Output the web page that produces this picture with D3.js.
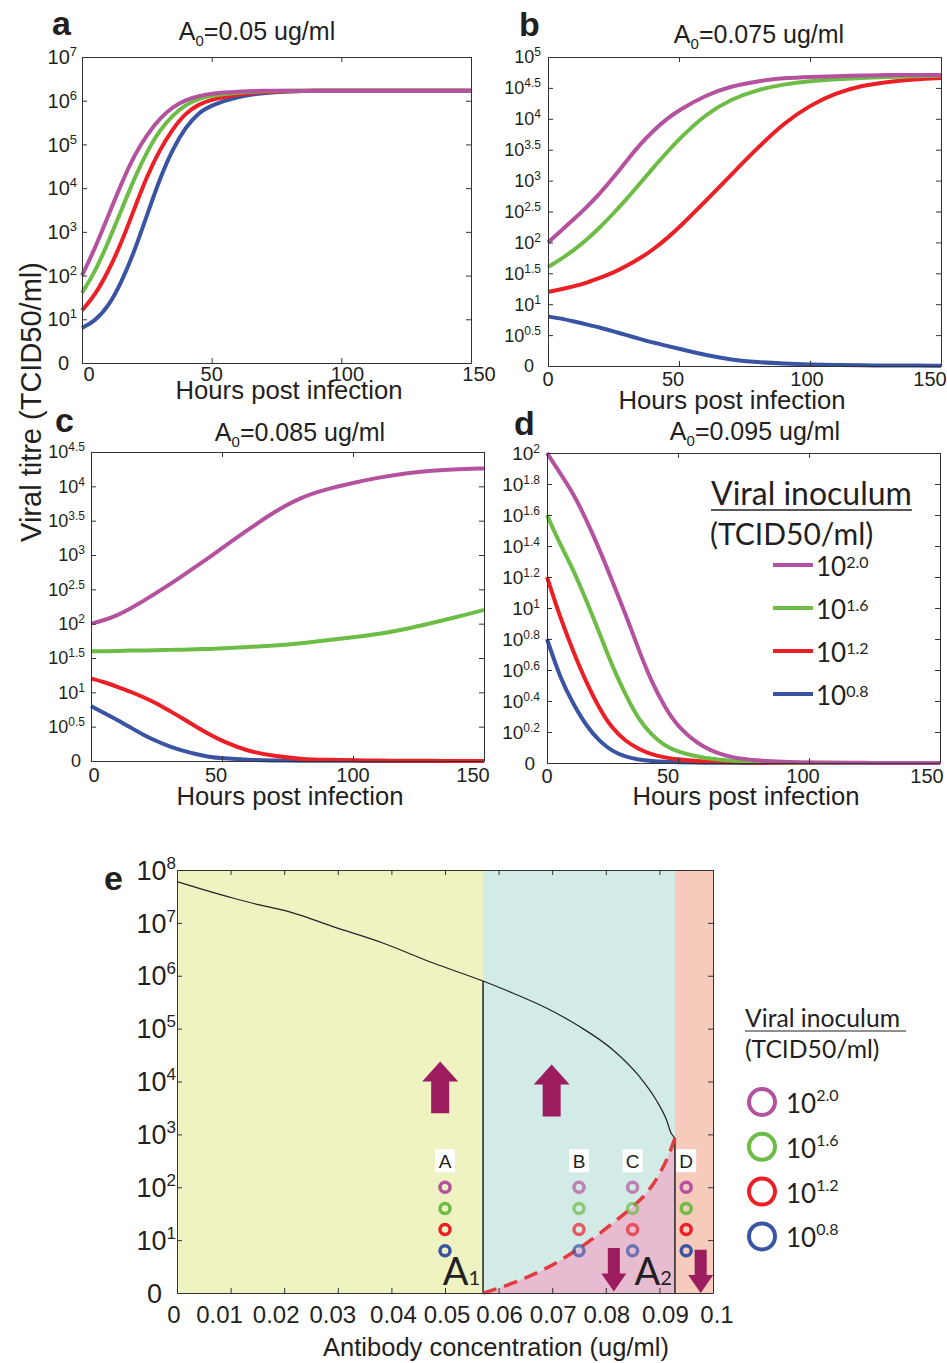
<!DOCTYPE html>
<html>
<head>
<meta charset="utf-8">
<script src="https://cdn.jsdelivr.net/npm/d3@7"></script>
<style>
body { margin: 0; background: #fff; }
svg text { font-family: "Liberation Sans", Arial, sans-serif; fill: #231f20; }
.axis path, .axis line { stroke: #333; stroke-width: 1; }
.legend text { font-family: Lato, "Liberation Sans", sans-serif; }
</style>
</head>
<body>
<svg id="fig" width="947" height="1363"></svg>
<script>
// ---- time-course panels a-d (log10 viral titre vs hours) ----
const hours = [0, 5, 10, 15, 20, 25, 30, 35, 40, 45, 50, 60, 70, 80, 90, 100, 110, 120, 130, 140, 150];
const hourTicks = [0, 50, 100, 150];

const aPurple = [2.0, 2.62, 3.35, 4.08, 4.74, 5.22, 5.6, 5.86, 6.02, 6.11, 6.17, 6.21, 6.23, 6.23, 6.23, 6.23, 6.23, 6.23, 6.23, 6.23, 6.23];
const aGreen  = [1.6, 2.08, 2.75, 3.47, 4.2, 4.83, 5.33, 5.67, 5.91, 6.05, 6.12, 6.19, 6.22, 6.23, 6.23, 6.23, 6.23, 6.23, 6.23, 6.23, 6.23];
const aRed    = [1.2, 1.55, 2.08, 2.72, 3.5, 4.27, 4.88, 5.36, 5.72, 5.92, 6.03, 6.15, 6.2, 6.22, 6.23, 6.23, 6.23, 6.23, 6.23, 6.23, 6.23];
const aBlue   = [0.8, 0.96, 1.28, 1.82, 2.52, 3.37, 4.22, 4.9, 5.4, 5.73, 5.9, 6.1, 6.18, 6.21, 6.23, 6.23, 6.23, 6.23, 6.23, 6.23, 6.23];

const bPurple = [2.0, 2.19, 2.38, 2.58, 2.8, 3.05, 3.32, 3.58, 3.8, 3.99, 4.14, 4.38, 4.53, 4.61, 4.66, 4.68, 4.69, 4.7, 4.71, 4.71, 4.71];
const bGreen  = [1.6, 1.73, 1.88, 2.05, 2.25, 2.47, 2.7, 2.95, 3.2, 3.44, 3.67, 4.07, 4.32, 4.47, 4.56, 4.61, 4.64, 4.66, 4.68, 4.69, 4.7];
const bRed    = [1.2, 1.24, 1.29, 1.35, 1.43, 1.51, 1.62, 1.74, 1.88, 2.05, 2.24, 2.66, 3.1, 3.53, 3.93, 4.22, 4.42, 4.54, 4.6, 4.64, 4.66];
const bBlue   = [0.8, 0.77, 0.72, 0.67, 0.62, 0.56, 0.5, 0.44, 0.38, 0.33, 0.28, 0.18, 0.1, 0.06, 0.04, 0.025, 0.015, 0.01, 0.008, 0.006, 0.005];

const cPurple = [2.0, 2.05, 2.12, 2.22, 2.33, 2.45, 2.57, 2.7, 2.83, 2.96, 3.1, 3.37, 3.63, 3.84, 3.96, 4.05, 4.13, 4.19, 4.23, 4.25, 4.26];
const cGreen  = [1.6, 1.6, 1.6, 1.61, 1.61, 1.61, 1.62, 1.62, 1.63, 1.63, 1.64, 1.66, 1.68, 1.71, 1.76, 1.8, 1.85, 1.92, 2.01, 2.1, 2.2];
const cRed    = [1.2, 1.15, 1.08, 1.01, 0.93, 0.84, 0.73, 0.62, 0.5, 0.39, 0.29, 0.14, 0.07, 0.03, 0.015, 0.01, 0.005, 0.003, 0.002, 0.001, 0.001];
const cBlue   = [0.8, 0.7, 0.6, 0.49, 0.38, 0.29, 0.21, 0.15, 0.1, 0.06, 0.04, 0.015, 0.008, 0.005, 0.003, 0.002, 0.001, 0.001, 0, 0, 0];

const dPurple = [2.0, 1.87, 1.74, 1.57, 1.38, 1.17, 0.96, 0.73, 0.52, 0.36, 0.23, 0.09, 0.035, 0.015, 0.007, 0.003, 0.002, 0.001, 0, 0, 0];
const dGreen  = [1.6, 1.41, 1.25, 1.05, 0.84, 0.62, 0.44, 0.28, 0.18, 0.11, 0.07, 0.03, 0.015, 0.007, 0.003, 0.002, 0.001, 0, 0, 0, 0];
const dRed    = [1.2, 0.94, 0.72, 0.52, 0.35, 0.22, 0.14, 0.09, 0.055, 0.035, 0.022, 0.009, 0.004, 0.002, 0.001, 0, 0, 0, 0, 0, 0];
const dBlue   = [0.8, 0.55, 0.38, 0.24, 0.14, 0.075, 0.04, 0.02, 0.012, 0.007, 0.004, 0.002, 0.001, 0, 0, 0, 0, 0, 0, 0, 0];

const yTicksA = [0, 1, 2, 3, 4, 5, 6, 7];
const yTicksB = [0, 0.5, 1, 1.5, 2, 2.5, 3, 3.5, 4, 4.5, 5];
const yTicksC = [0, 0.5, 1, 1.5, 2, 2.5, 3, 3.5, 4, 4.5];
const yTicksD = [0, 0.2, 0.4, 0.6, 0.8, 1, 1.2, 1.4, 1.6, 1.8, 2];

const inoculumLabels = ["2.0", "1.6", "1.2", "0.8"];
const inoculumLog = [2.0, 1.6, 1.2, 0.8];
const seriesColors = ["#b4529f", "#6cbc45", "#ec1f26", "#3a54a4"];

// ---- panel e (bifurcation diagram) ----
const concTicks = [0, 0.01, 0.02, 0.03, 0.04, 0.05, 0.06, 0.07, 0.08, 0.09, 0.1];
const yTicksE = [0, 1, 2, 3, 4, 5, 6, 7, 8];
const regionEdges = [0, 0.0571, 0.0929, 0.1];
const regionColors = ["#eef3c1", "#d3ebe6", "#f7cbbc"];
const upperConc = [0, 0.0104, 0.0154, 0.0198, 0.0216, 0.0291, 0.0384, 0.0478, 0.0571, 0.0627, 0.0689, 0.0751, 0.0813, 0.0863, 0.0894, 0.0913, 0.0922, 0.0929];
const upperLog  = [7.78, 7.47, 7.34, 7.24, 7.19, 6.93, 6.62, 6.24, 5.9, 5.67, 5.39, 5.04, 4.6, 4.09, 3.65, 3.28, 3.02, 2.93];
const threshConc = [0.0571, 0.0627, 0.0689, 0.0751, 0.0813, 0.0851, 0.0876, 0.0901, 0.0919, 0.0929];
const threshLog  = [0, 0.19, 0.47, 0.85, 1.32, 1.64, 1.89, 2.27, 2.65, 2.93];
const markerConc = [0.05, 0.075, 0.085, 0.095];
const markerNames = ["A", "B", "C", "D"];
const upArrowConc = [0.0491, 0.0699];
const upArrowFrom = [3.4, 3.34];
const upArrowTo = [4.38, 4.32];
const downArrowConc = [0.0815, 0.0977];
const downArrowFrom = [0.85, 0.82];
const downArrowTo = [0.03, 0.0];

const svg = d3.select("#fig");

function supLabel(sel, base, sup, size, supSize, supDy) {
    sel.append("tspan").text(base).style("font-size", size + "px");
    if (sup !== null) {
        sel.append("tspan").text(sup).style("font-size", supSize + "px").attr("dy", -supDy);
    }
}

function yLabels(g, y, ticks, o) {
    ticks.forEach(t => {
        const txt = g.append("text")
            .attr("text-anchor", "end")
            .attr("x", t === 0 ? -o.zeroGap : -o.gap)
            .attr("y", y(t) + o.size * 0.36);
        if (t === 0) supLabel(txt, "0", null, o.size);
        else supLabel(txt, "10", String(t), o.size, o.supSize, o.supDy);
    });
}

function boxAxes(g, x, y, w, h, xTicks, yTicks) {
    g.append("g").attr("class", "axis").attr("transform", `translate(0,${h})`)
        .call(d3.axisBottom(x).tickValues(xTicks).tickSize(-5).tickSizeOuter(0).tickFormat(""));
    g.append("g").attr("class", "axis")
        .call(d3.axisTop(x).tickValues(xTicks).tickSize(-5).tickSizeOuter(0).tickFormat(""));
    g.append("g").attr("class", "axis")
        .call(d3.axisLeft(y).tickValues(yTicks).tickSize(-5).tickSizeOuter(0).tickFormat(""));
    g.append("g").attr("class", "axis").attr("transform", `translate(${w},0)`)
        .call(d3.axisRight(y).tickValues(yTicks).tickSize(-5).tickSizeOuter(0).tickFormat(""));
}

// layout of the four small panels (pixel placement, label nudges)
const panels = [
    { letter: "a", conc: "0.05", series: [aPurple, aGreen, aRed, aBlue], yTicks: yTicksA,
      x0: 82, x1: 471, y0: 57, y1: 363, lx: 52, ly: 35, tx: 175, ty: -17, xl: 18, xt: 36, xc: 207,
      nudge: [7, 0, 6, 8],
      ys: { size: 20, supSize: 13, supDy: 8, gap: 5, zeroGap: 13 } },
    { letter: "b", conc: "0.075", series: [bPurple, bGreen, bRed, bBlue], yTicks: yTicksB,
      x0: 548, x1: 941, y0: 57, y1: 366, lx: 519, ly: 36, tx: 211, ty: -14, xl: 20, xt: 43, xc: 184,
      nudge: [0, -6, -3, -11],
      ys: { size: 18, supSize: 12, supDy: 7, gap: 7, zeroGap: 14 } },
    { letter: "c", conc: "0.085", series: [cPurple, cGreen, cRed, cBlue], yTicks: yTicksC,
      x0: 91, x1: 484, y0: 452, y1: 761, lx: 55, ly: 432, tx: 209, ty: -11, xl: 21, xt: 44, xc: 199,
      nudge: [3, -6, 0, -11],
      ys: { size: 18, supSize: 12, supDy: 7, gap: 6, zeroGap: 10 } },
    { letter: "d", conc: "0.095", series: [dPurple, dGreen, dRed, dBlue], yTicks: yTicksD,
      x0: 547, x1: 940, y0: 453, y1: 763, lx: 514, ly: 435, tx: 208, ty: -13, xl: 20, xt: 42, xc: 199,
      nudge: [0, -10, -6, -13],
      ys: { size: 19, supSize: 12, supDy: 7, gap: 7, zeroGap: 12 } }
];

panels.forEach(p => {
    const w = p.x1 - p.x0, h = p.y1 - p.y0;
    const x = d3.scaleLinear().domain([0, 150]).range([0, w]);
    const y = d3.scaleLinear().domain([0, d3.max(p.yTicks)]).range([h, 0]);
    const g = svg.append("g").attr("transform", `translate(${p.x0},${p.y0})`);

    const line = d3.line()
        .x((d, i) => x(hours[i]))
        .y(d => y(d))
        .curve(d3.curveBasis);

    // lowest inoculum first so purple sits on top
    [3, 2, 1, 0].forEach(k => {
        g.append("path")
            .datum(p.series[k])
            .attr("d", line)
            .attr("fill", "none")
            .attr("stroke", seriesColors[k])
            .attr("stroke-width", 4);
    });

    boxAxes(g, x, y, w, h, hourTicks, p.yTicks);

    g.selectAll(".xt").data(hourTicks).enter().append("text")
        .attr("x", (d, i) => x(d) + p.nudge[i]).attr("y", h + p.xl)
        .attr("text-anchor", "middle")
        .style("font-size", "20px")
        .text(d => d);

    yLabels(g, y, p.yTicks, p.ys);

    g.append("text").attr("x", p.xc).attr("y", h + p.xt)
        .attr("text-anchor", "middle").style("font-size", "25.7px")
        .text("Hours post infection");

    const t = g.append("text").attr("x", p.tx).attr("y", p.ty)
        .attr("text-anchor", "middle").style("font-size", "25px");
    t.append("tspan").text("A");
    t.append("tspan").text("0").style("font-size", "15px").attr("dy", 6);
    t.append("tspan").text("=" + p.conc + " ug/ml").attr("dy", -6);

    svg.append("text").attr("x", p.lx).attr("y", p.ly)
        .style("font-size", "34px").style("font-weight", "bold")
        .text(p.letter);
});

// shared y label
svg.append("text")
    .attr("transform", "translate(41,402) rotate(-90)")
    .attr("text-anchor", "middle")
    .style("font-size", "29px")
    .text("Viral titre (TCID50/ml)");

// legend inside panel d
const legD = svg.append("g").attr("class", "legend");
const legTitle = legD.append("text").attr("x", 711).attr("y", 505)
    .style("font-size", "32px").text("Viral inoculum");
const ltw = legTitle.node().getComputedTextLength();
legD.append("line").attr("x1", 711).attr("x2", 711 + ltw).attr("y1", 510).attr("y2", 510)
    .attr("stroke", "#231f20").attr("stroke-width", 1.5);
legD.append("text").attr("x", 710).attr("y", 545).style("font-size", "30px").text("(TCID50/ml)");
inoculumLabels.forEach((lab, i) => {
    const yy = 565 + i * 43;
    legD.append("line").attr("x1", 773).attr("x2", 813).attr("y1", yy).attr("y2", yy)
        .attr("stroke", seriesColors[i]).attr("stroke-width", 4);
    const tx = legD.append("text").attr("x", 816).attr("y", yy + 11);
    supLabel(tx, "10", lab, 26, 16, 8);
});

// ---- panel e ----
const E = { x0: 177, x1: 713, y0: 870, y1: 1293 };
const ew = E.x1 - E.x0, eh = E.y1 - E.y0;
const xe = d3.scaleLinear().domain([0, 0.1]).range([0, ew]);
const ye = d3.scaleLinear().domain([0, 8]).range([eh, 0]);
const ge = svg.append("g").attr("transform", `translate(${E.x0},${E.y0})`);
const concNudge = [-3, -11, -8, -5, 2, 2, 1, 1, 1, 6, 4];

regionColors.forEach((c, i) => {
    ge.append("rect")
        .attr("x", xe(regionEdges[i])).attr("y", 0)
        .attr("width", xe(regionEdges[i + 1]) - xe(regionEdges[i]))
        .attr("height", eh).attr("fill", c);
});

const threshPts = threshConc.map((c, i) => [c, threshLog[i]]);
ge.append("path").datum(threshPts)
    .attr("d", d3.area().x(d => xe(d[0])).y0(ye(0)).y1(d => ye(d[1])).curve(d3.curveMonotoneX))
    .attr("fill", "#e7bcd1");

const upperPts = upperConc.map((c, i) => [c, upperLog[i]]);
ge.append("path").datum(upperPts)
    .attr("d", d3.line().x(d => xe(d[0])).y(d => ye(d[1])).curve(d3.curveMonotoneX))
    .attr("fill", "none").attr("stroke", "#222").attr("stroke-width", 1.2);

// vertical edges of the bistable region
[regionEdges[1], regionEdges[2]].forEach(c => {
    const top = upperLog[upperConc.indexOf(c)];
    ge.append("line")
        .attr("x1", xe(c)).attr("x2", xe(c))
        .attr("y1", ye(0)).attr("y2", ye(top))
        .attr("stroke", "#222").attr("stroke-width", 1.5);
});

ge.append("path").datum(threshPts)
    .attr("d", d3.line().x(d => xe(d[0])).y(d => ye(d[1])).curve(d3.curveMonotoneX))
    .attr("fill", "none").attr("stroke", "#e53a3e").attr("stroke-width", 3.5)
    .attr("stroke-dasharray", "14,8");

// markers
markerConc.forEach((c, j) => {
    const cx = xe(c);
    ge.append("rect").attr("x", cx - 10).attr("y", ye(inoculumLog[0]) - 38)
        .attr("width", 20).attr("height", 23).attr("fill", "#fff");
    ge.append("text").attr("x", cx).attr("y", ye(inoculumLog[0]) - 19)
        .attr("text-anchor", "middle").style("font-size", "19px").text(markerNames[j]);
    inoculumLog.forEach((v, i) => {
        ge.append("circle").attr("cx", cx).attr("cy", ye(v)).attr("r", 5)
            .attr("fill", "none").attr("stroke", seriesColors[i]).attr("stroke-width", 3.5)
            .attr("stroke-opacity", (j === 1 || j === 2) ? 0.7 : 1);
    });
});

// arrows
const arrowColor = "#9c1c60";
upArrowConc.forEach((c, i) => {
    const cx = xe(c), yb = ye(upArrowFrom[i]), yt = ye(upArrowTo[i]);
    const hh = 20, hw = 18, sw = 9;
    ge.append("path")
        .attr("d", `M${cx - sw},${yb} L${cx - sw},${yt + hh} L${cx - hw},${yt + hh} L${cx},${yt} L${cx + hw},${yt + hh} L${cx + sw},${yt + hh} L${cx + sw},${yb} Z`)
        .attr("fill", arrowColor);
});
downArrowConc.forEach((c, i) => {
    const cx = xe(c), yt = ye(downArrowFrom[i]), yb = ye(downArrowTo[i]);
    const hh = 18, hw = 12.5, sw = 6;
    ge.append("path")
        .attr("d", `M${cx - sw},${yt} L${cx - sw},${yb - hh} L${cx - hw},${yb - hh} L${cx},${yb} L${cx + hw},${yb - hh} L${cx + sw},${yb - hh} L${cx + sw},${yt} Z`)
        .attr("fill", arrowColor);
});

// A1 / A2 labels at the region edges
["1", "2"].forEach((s, i) => {
    const t = ge.append("text")
        .attr("x", xe(regionEdges[i + 1]) - 3).attr("y", ye(0) - 8)
        .attr("text-anchor", "end")
        .style("font-family", "Lato, 'Liberation Sans', sans-serif");
    t.append("tspan").text("A").style("font-size", "38px");
    t.append("tspan").text(s).style("font-size", "20px");
});

boxAxes(ge, xe, ye, ew, eh, concTicks, yTicksE);

ge.selectAll(".xte").data(concTicks).enter().append("text")
    .attr("x", (d, i) => xe(d) + concNudge[i]).attr("y", eh + 30)
    .attr("text-anchor", "middle").style("font-size", "24px")
    .text(d => d);

yLabels(ge, ye, yTicksE, { size: 27, supSize: 17, supDy: 11, gap: 1, zeroGap: 15 });

ge.append("text").attr("x", 319).attr("y", eh + 63)
    .attr("text-anchor", "middle").style("font-size", "25.5px")
    .text("Antibody concentration (ug/ml)");

svg.append("text").attr("x", 104).attr("y", 890)
    .style("font-size", "34px").style("font-weight", "bold").text("e");

// legend for panel e
const legE = svg.append("g").attr("class", "legend");
const lt2 = legE.append("text").attr("x", 745).attr("y", 1027)
    .style("font-size", "24.7px").text("Viral inoculum");
const lw2 = lt2.node().getComputedTextLength();
legE.append("line").attr("x1", 745).attr("x2", 745 + lw2 + 6).attr("y1", 1031).attr("y2", 1031)
    .attr("stroke", "#231f20").attr("stroke-width", 1.2);
legE.append("text").attr("x", 745).attr("y", 1058).style("font-size", "24.7px").text("(TCID50/ml)");
inoculumLabels.forEach((lab, i) => {
    const yy = 1102 + i * 44.8;
    legE.append("circle").attr("cx", 762).attr("cy", yy).attr("r", 13)
        .attr("fill", "none").attr("stroke", seriesColors[i]).attr("stroke-width", 4);
    const tx = legE.append("text").attr("x", 786).attr("y", yy + 11);
    supLabel(tx, "10", lab, 26, 16, 12);
});
</script>
</body>
</html>
